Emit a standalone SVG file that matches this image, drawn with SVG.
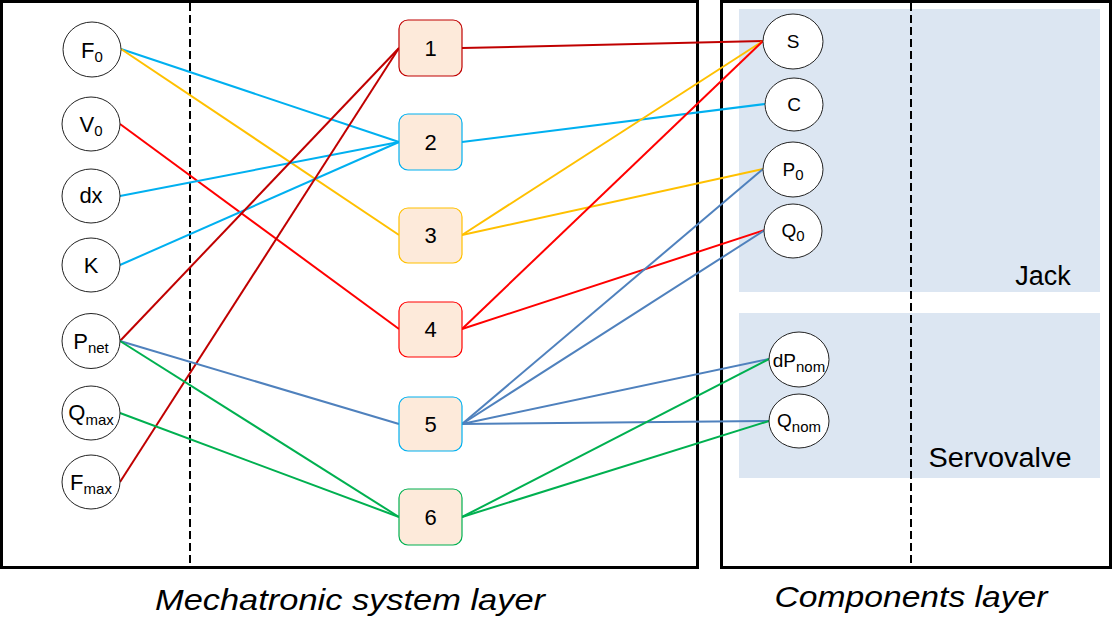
<svg xmlns="http://www.w3.org/2000/svg" width="1113" height="644" viewBox="0 0 1113 644">
<style>
.frame{fill:none;stroke:#000;stroke-width:3}
.dash{stroke:#000;stroke-width:2;stroke-dasharray:8,4}
.panel{fill:#DCE6F2}
.var ellipse{fill:#fff;stroke:#222;stroke-width:1}
.var text,.box text{font-family:"Liberation Sans",Arial,sans-serif;fill:#000;text-anchor:middle}
.var text{font-size:22px}
.var.r text{font-size:19px}
.box rect{fill:#FDEADA;stroke-width:1.2}
.box text{font-size:22px}
.sub{font-size:15px}
.lbl{font-family:"Liberation Sans",Arial,sans-serif;fill:#000;font-size:27px}
.cap{font-family:"Liberation Sans",Arial,sans-serif;font-style:italic;font-size:30px;fill:#000}
#connectors line{stroke-width:2;fill:none}
.bl{stroke:#00B0F0}.yl{stroke:#FFC000}.rd{stroke:#FF0000}.dr{stroke:#C00000}.sb{stroke:#4F81BD}.gr{stroke:#00B050}
</style>
<rect x="0" y="0" width="1113" height="644" fill="#fff"/>
<g id="layers">
<rect class="frame" x="1.5" y="1.5" width="696" height="566"/>
<rect class="frame" x="721.5" y="1.5" width="389" height="566"/>
<rect class="panel" x="739" y="9" width="361" height="283"/>
<rect class="panel" x="739" y="313" width="361" height="165"/>
<line class="dash" x1="190" y1="3" x2="190" y2="566"/>
<line class="dash" x1="911" y1="3" x2="911" y2="566"/>
<text class="lbl" x="1043" y="285" text-anchor="middle">Jack</text>
<text class="lbl" x="1000" y="467" text-anchor="middle" textLength="143" lengthAdjust="spacingAndGlyphs">Servovalve</text>
<text class="cap" x="350" y="610" text-anchor="middle" textLength="390" lengthAdjust="spacingAndGlyphs">Mechatronic system layer</text>
<text class="cap" x="911" y="607" text-anchor="middle" textLength="273" lengthAdjust="spacingAndGlyphs">Components layer</text>
</g>
<g id="connectors">
<line class="bl" x1="121" y1="49" x2="399" y2="142"/>
<line class="yl" x1="121" y1="49" x2="399" y2="235"/>
<line class="rd" x1="120" y1="124" x2="399" y2="329"/>
<line class="bl" x1="120" y1="196" x2="399" y2="142"/>
<line class="bl" x1="120" y1="265" x2="399" y2="142"/>
<line class="dr" x1="120" y1="341" x2="399" y2="48"/>
<line class="dr" x1="120" y1="482" x2="399" y2="48"/>
<line class="sb" x1="120" y1="341" x2="399" y2="424"/>
<line class="gr" x1="120" y1="341" x2="399" y2="517"/>
<line class="gr" x1="120" y1="413" x2="399" y2="517"/>
<line class="dr" x1="462" y1="48" x2="763" y2="41"/>
<line class="bl" x1="462" y1="142" x2="765" y2="104"/>
<line class="yl" x1="462" y1="235" x2="763" y2="41"/>
<line class="yl" x1="462" y1="235" x2="763" y2="169"/>
<line class="rd" x1="462" y1="329" x2="763" y2="41"/>
<line class="rd" x1="462" y1="329" x2="768" y2="229"/>
<line class="sb" x1="462" y1="424" x2="763" y2="169"/>
<line class="sb" x1="462" y1="424" x2="765" y2="230"/>
<line class="sb" x1="462" y1="424" x2="769" y2="359"/>
<line class="sb" x1="462" y1="424" x2="769" y2="421"/>
<line class="gr" x1="462" y1="517" x2="769" y2="359"/>
<line class="gr" x1="462" y1="517" x2="769" y2="421"/>
</g>
<g id="F0" class="var"><ellipse cx="92" cy="49.5" rx="29" ry="27.5"/><text x="92" y="58">F<tspan class="sub" dy="4">0</tspan></text></g>
<g id="V0" class="var"><ellipse cx="91" cy="124" rx="29" ry="27"/><text x="91" y="132">V<tspan class="sub" dy="4">0</tspan></text></g>
<g id="dx" class="var"><ellipse cx="91" cy="196" rx="29" ry="27"/><text x="91" y="203">dx</text></g>
<g id="K" class="var"><ellipse cx="91" cy="265" rx="29" ry="27"/><text x="91" y="273">K</text></g>
<g id="Pnet" class="var"><ellipse cx="91" cy="341" rx="29" ry="27.5"/><text x="91" y="349">P<tspan class="sub" dy="4">net</tspan></text></g>
<g id="Qmax" class="var"><ellipse cx="91" cy="413" rx="29" ry="27"/><text x="91" y="420">Q<tspan class="sub" dy="5">max</tspan></text></g>
<g id="Fmax" class="var"><ellipse cx="91" cy="482" rx="29" ry="27"/><text x="91" y="490">F<tspan class="sub" dy="4">max</tspan></text></g>
<g id="b1" class="box"><rect x="399" y="20" width="63" height="56" rx="9" stroke="#C00000"/><text x="430.5" y="56">1</text></g>
<g id="b2" class="box"><rect x="399" y="114" width="63" height="56" rx="9" stroke="#00B0F0"/><text x="430.5" y="150">2</text></g>
<g id="b3" class="box"><rect x="399" y="208" width="63" height="55" rx="9" stroke="#FFC000"/><text x="430.5" y="243">3</text></g>
<g id="b4" class="box"><rect x="399" y="302" width="63" height="55" rx="9" stroke="#FF0000"/><text x="430.5" y="337">4</text></g>
<g id="b5" class="box"><rect x="399" y="397" width="63" height="54" rx="9" stroke="#00B0F0"/><text x="430.5" y="432">5</text></g>
<g id="b6" class="box"><rect x="399" y="489" width="63" height="56" rx="9" stroke="#00B050"/><text x="430.5" y="525">6</text></g>
<g id="S" class="var r"><ellipse cx="793" cy="41.5" rx="30" ry="27.5"/><text x="793" y="48">S</text></g>
<g id="C" class="var r"><ellipse cx="794" cy="104.5" rx="29" ry="26.5"/><text x="794" y="111">C</text></g>
<g id="P0" class="var r"><ellipse cx="793" cy="169.5" rx="30" ry="27.5"/><text x="793" y="176">P<tspan class="sub" dy="4">0</tspan></text></g>
<g id="Q0" class="var r"><ellipse cx="793" cy="231" rx="29" ry="27"/><text x="793" y="237">Q<tspan class="sub" dy="4">0</tspan></text></g>
<g id="dPnom" class="var r"><ellipse cx="799" cy="359.5" rx="30" ry="27.5"/><text x="799" y="367" font-size="20">dP<tspan class="sub" dy="5">nom</tspan></text></g>
<g id="Qnom" class="var r"><ellipse cx="799" cy="421" rx="30" ry="27"/><text x="799" y="427" font-size="20">Q<tspan class="sub" dy="5">nom</tspan></text></g>
</svg>
